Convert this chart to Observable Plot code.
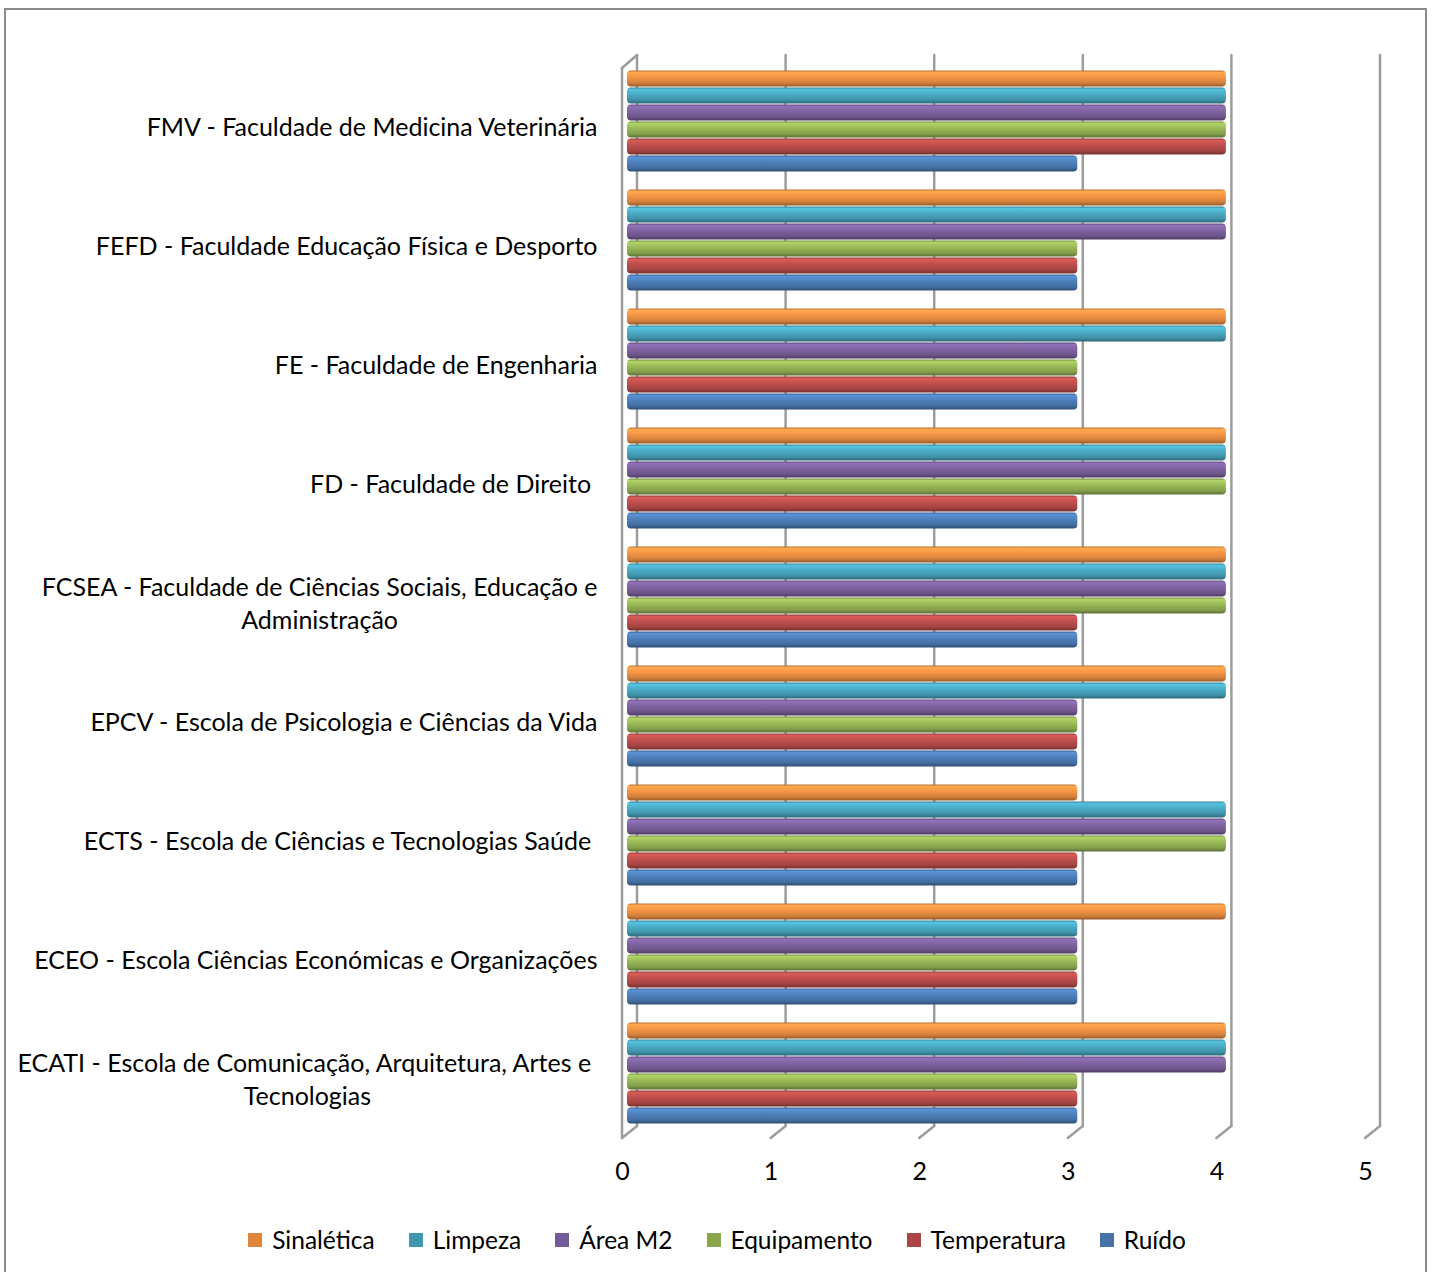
<!DOCTYPE html>
<html>
<head>
<meta charset="utf-8">
<script src="https://cdn.jsdelivr.net/npm/d3@7"></script>
<script src="https://cdn.jsdelivr.net/npm/@observablehq/plot@0.6"></script>
<style>
  body { margin: 0; background: #fff; }
  #wrap { position: relative; width: 1434px; height: 1272px; overflow: hidden; font-family: "Lato", sans-serif; }
  #border { position: absolute; left: 4px; top: 8px; width: 1423px; height: 1320px; border: 2px solid #8a8a8a; border-bottom: none; box-sizing: border-box; }
  #chart { position: absolute; left: 0; top: 0; }
  #legend { position: absolute; left: 0; top: 1225px; width: 1434px; display: flex; justify-content: center; align-items: center; font-size: 24.5px; color: #000; }
  .item { display: flex; align-items: center; margin: 0 17px; }
  .sw { width: 14px; height: 14px; margin-right: 10px; }
</style>
</head>
<body>
<div id="wrap">
  <div id="border"></div>
  <div id="chart"></div>
  <div id="legend"></div>
</div>
<script>
const categories = [
  "FMV - Faculdade de Medicina Veterinária",
  "FEFD - Faculdade Educação Física e Desporto",
  "FE - Faculdade de Engenharia",
  "FD - Faculdade de Direito ",
  "FCSEA - Faculdade de Ciências Sociais, Educação e\nAdministração",
  "EPCV - Escola de Psicologia e Ciências da Vida",
  "ECTS - Escola de Ciências e Tecnologias Saúde ",
  "ECEO - Escola Ciências Económicas e Organizações",
  "ECATI - Escola de Comunicação, Arquitetura, Artes e \nTecnologias"
];
const series = ["Sinalética", "Limpeza", "Área M2", "Equipamento", "Temperatura", "Ruído"];
const sinaletica  = [4, 4, 4, 4, 4, 4, 3, 4, 4];
const limpeza     = [4, 4, 4, 4, 4, 4, 4, 3, 4];
const areaM2      = [4, 4, 3, 4, 4, 3, 4, 3, 4];
const equipamento = [4, 3, 3, 4, 4, 3, 4, 3, 3];
const temperatura = [4, 3, 3, 3, 3, 3, 3, 3, 3];
const ruido       = [3, 3, 3, 3, 3, 3, 3, 3, 3];
const xTicks = [0, 1, 2, 3, 4, 5];

const barColors = ["#F79646", "#4BACC6", "#8064A2", "#9BBB59", "#C0504D", "#4F81BD"];
const legendColors = ["#E0853C", "#3F97AE", "#735A9A", "#89A54E", "#AA4643", "#4572A7"];

const values = [sinaletica, limpeza, areaM2, equipamento, temperatura, ruido];
const key = (ci, s) => ci + "|" + s;
const yDomain = [];
categories.forEach((c, ci) => {
  series.forEach(s => yDomain.push(key(ci, s)));
  if (ci < categories.length - 1) yDomain.push(key(ci, "gap"));
});
const rows = [];
series.forEach((s, si) => categories.forEach((c, ci) => rows.push({category: c, ci, series: s, si, value: values[si][ci]})));

const W = 1434, H = 1205;
const depthX = 15, depthY = 13;

function walls(index, scales, vals, dims) {
  const x = scales.x;
  const top = dims.marginTop, bottom = dims.height - dims.marginBottom;
  const g = d3.create("svg:g").attr("stroke", "#9c9c9c").attr("stroke-width", 2.5).attr("fill", "none").attr("stroke-linecap", "round");
  for (const t of xTicks) {
    const xf = x(t);
    g.append("line").attr("x1", xf + depthX).attr("x2", xf + depthX).attr("y1", top - depthY).attr("y2", bottom + 1);
    g.append("line").attr("x1", xf).attr("x2", xf + depthX).attr("y1", bottom + depthY).attr("y2", bottom + 1);
  }
  const x0 = x(0);
  g.append("line").attr("x1", x0).attr("x2", x0).attr("y1", top).attr("y2", bottom + depthY);
  g.append("line").attr("x1", x0).attr("x2", x0 + depthX).attr("y1", top).attr("y2", top - depthY);
  return g.node();
}

const marks = [walls];
series.forEach((s, si) => {
  marks.push(Plot.barX(rows.filter(r => r.si === si), {
    x1: 0, x2: "value", y: d => key(d.ci, d.series),
    fill: `url(#tube${si})`, dx: 5, insetRight: -4.5, insetTop: 0.6, insetBottom: 0.6, rx: 4
  }));
});
marks.push(Plot.text(categories.map((c, ci) => ({c, ci})), {
  x: () => 0, y: d => key(d.ci, "Equipamento"), text: "c",
  textAnchor: "end", lineAnchor: "middle", dx: -25, dy: -4, lineHeight: 1.3,
  fontSize: 25, fill: "#000"
}));
marks.push(Plot.text(xTicks, {x: d => d, frameAnchor: "bottom", dy: 54, text: d => String(d), fontSize: 25, fill: "#000"}));

const chart = Plot.plot({
  width: W, height: H,
  marginLeft: 622, marginRight: 69, marginTop: 68, marginBottom: H - 1125,
  style: {fontFamily: '"Lato", sans-serif', background: "transparent", overflow: "visible"},
  x: {domain: [0, 5], axis: null},
  y: {domain: yDomain, axis: null, padding: 0},
  marks
});

const defs = d3.create("svg:defs");
barColors.forEach((c, i) => {
  const g = defs.append("linearGradient").attr("id", `tube${i}`).attr("x1", 0).attr("y1", 0).attr("x2", 0).attr("y2", 1);
  const base = d3.color(c);
  [[0, base.darker(0.8)], [0.12, base.brighter(0.35)], [0.4, base], [0.78, base.darker(0.45)], [1, base.darker(1.4)]]
    .forEach(([o, col]) => g.append("stop").attr("offset", o).attr("stop-color", col.formatHex()));
});
chart.insertBefore(defs.node(), chart.firstChild);
document.getElementById("chart").appendChild(chart);

// center multi-line category labels within their block (right edge kept)
d3.select(chart).selectAll("text").each(function() {
  const tsp = this.querySelectorAll("tspan");
  if (tsp.length > 1) {
    let w = 0;
    tsp.forEach(t => { w = Math.max(w, t.getComputedTextLength()); });
    this.setAttribute("text-anchor", "middle");
    tsp.forEach(t => t.setAttribute("x", -w / 2));
  }
});

const legend = document.getElementById("legend");
series.forEach((s, i) => {
  const it = document.createElement("div");
  it.className = "item";
  it.innerHTML = `<span class="sw" style="background:${legendColors[i]}"></span><span>${s}</span>`;
  legend.appendChild(it);
});
</script>
</body>
</html>
